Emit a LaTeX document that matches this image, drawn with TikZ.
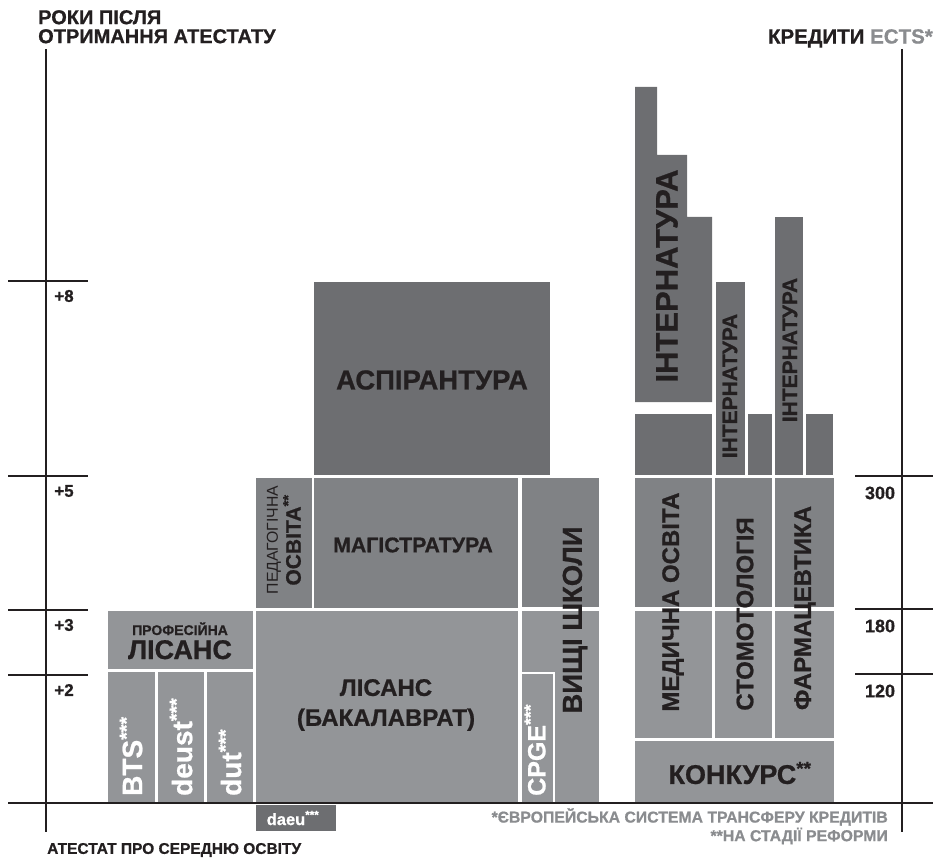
\documentclass[tikz,border=0pt]{standalone}
\usepackage{fontspec}
\setmainfont{Liberation Sans}[BoldFeatures={FakeBold=0.8}]
\usetikzlibrary{positioning}
\definecolor{darkgrey}{HTML}{6D6E71}
\definecolor{midgrey}{HTML}{808285}
\definecolor{lightgrey}{HTML}{939598}
\definecolor{ink}{HTML}{231F20}
\definecolor{notegrey}{HTML}{8A8C8F}
\def\px#1{\fontsize{#1}{#1}\selectfont}
\tikzset{
	axisline/.style={line width=2.5pt, ink},
	lbl/.style={font=\bfseries, text=ink, inner sep=0pt, align=center},
	vlbl/.style={lbl, rotate=90},
	wlbl/.style={font=\bfseries, text=white, inner sep=0pt, rotate=90, anchor=west},
}

\begin{document}
\begin{tikzpicture}[x=1pt, y=-1pt]
			%%%%% START %%%%%
			\useasboundingbox (0,0) rectangle (933,858);
			
			% light blocks
			\fill[lightgrey] (108,611) rectangle (253,669);
			\fill[lightgrey] (108,672) rectangle (155,803);
			\fill[lightgrey] (158,672) rectangle (204,803);
			\fill[lightgrey] (207,672) rectangle (253,803);
			\fill[lightgrey] (256,611) rectangle (518,803);
			\fill[lightgrey] (522,611) rectangle (599,803);
			\draw[white, line width=2.5pt] (521,673) -- (554,673) -- (554,803);
			\fill[lightgrey] (635,611) rectangle (712,738);
			\fill[lightgrey] (715,611) rectangle (772,738);
			\fill[lightgrey] (775,611) rectangle (834,738);
			\fill[lightgrey] (635,741) rectangle (834,803);
			
			% middle blocks
			\fill[midgrey] (256,478) rectangle (312,608);
			\fill[midgrey] (314,478) rectangle (518,608);
			\fill[midgrey] (522,478) rectangle (599,607);
			\fill[midgrey] (635,478) rectangle (712,607);
			\fill[midgrey] (715,478) rectangle (772,607);
			\fill[midgrey] (775,478) rectangle (834,607);
			
			% dark blocks
			\fill[darkgrey] (314,282) rectangle (550,475);
			\fill[darkgrey] (635,402) -- (635,87) -- (657,87) -- (657,155) -- (687,155) -- (687,217) -- (712,217) -- (712,402) -- cycle;
			\fill[darkgrey] (635,414) rectangle (712,475);
			\fill[darkgrey] (716,282) rectangle (745,475);
			\fill[darkgrey] (748,414) rectangle (772,475);
			\fill[darkgrey] (775,217) rectangle (803,475);
			\fill[darkgrey] (806,414) rectangle (833,475);
			\fill[darkgrey] (256,805) rectangle (336,831);
			
			% axes
			\draw[axisline] (46,49) -- (46,832);
			\draw[axisline] (902,49) -- (902,832);
			\draw[axisline] (8,803) -- (933,803);
			\foreach \y/\t/\n in {281/+8/8, 476/+5/5, 610/+3/3, 675/+2/2}{
				\draw[axisline] (8,\y) -- (88,\y);
				\node[lbl, font=\bfseries\px{17}] (year\n) at (64,\y+15) {\t};
			}
			\foreach \y/\t in {476/300, 609/180, 674/120}{
				\draw[axisline] (855,\y) -- (933,\y);
				\node[lbl, font=\bfseries\px{18}] (ects\t) at (880,\y+17) {\t};
			}
			
			% titles
			\node[lbl, align=left, anchor=north west, font=\bfseries\px{20}] (years) at (38,10) {РОКИ ПІСЛЯ\\[-1pt]ОТРИМАННЯ АТЕСТАТУ};
			\node[lbl, anchor=north east, font=\bfseries\px{20.5}] (credits) at (933,29) {КРЕДИТИ \textcolor{notegrey}{ECTS*}};
			\node[lbl, anchor=west, font=\bfseries\px{15.5}] (bac) at (47,850) {АТЕСТАТ ПРО СЕРЕДНЮ ОСВІТУ};
			\node[lbl, anchor=east, text=notegrey, font=\bfseries\px{15.8}] (note1) at (888,817) {*ЄВРОПЕЙСЬКА СИСТЕМА ТРАНСФЕРУ КРЕДИТІВ};
			\node[lbl, anchor=east, text=notegrey, font=\bfseries\px{15.8}] (note2) at (888,836) {**НА СТАДІЇ РЕФОРМИ};
			
			% block labels
			\node[lbl, font=\bfseries\px{27.5}] (aspir) at (432,380) {АСПІРАНТУРА};
			\node[lbl, font=\bfseries\px{21.3}] (magistr) at (413,545) {МАГІСТРАТУРА};
			\node[vlbl, font=\mdseries\px{15.8}] (pedag) at (274,540) {ПЕДАГОГІЧНА};
			\node[vlbl, font=\bfseries\px{21}] (pedag2) at (292,540) {ОСВІТА\textsuperscript{**}};
			\node[lbl, anchor=base, font=\bfseries\px{14}] (prof) at (180,635) {ПРОФЕСІЙНА};
			\node[lbl, anchor=base, font=\bfseries\px{27}] (prof2) at (180,659) {ЛІСАНС};
			\node[lbl, font=\bfseries\px{24}] (licence) at (386,705) {ЛІСАНС\\[6pt](БАКАЛАВРАТ)};
			\node[wlbl, font=\bfseries\px{28}] (bts) at (131,796) {BTS\textsuperscript{***}};
			\node[wlbl, font=\bfseries\px{28}] (deust) at (181,796) {deust\textsuperscript{***}};
			\node[wlbl, font=\bfseries\px{28}] (dut) at (230,796) {dut\textsuperscript{***}};
			\node[wlbl, font=\bfseries\px{25}] (cpge) at (535,796) {CPGE\textsuperscript{***}};
			\node[lbl, text=white, font=\bfseries\px{16.5}] (daeu) at (293,818) {daeu\textsuperscript{***}};
			\node[vlbl, font=\bfseries\px{27.5}] (schools) at (575,620) {ВИЩІ ШКОЛИ};
			\node[vlbl, font=\bfseries\px{24}] (medic) at (673,602) {МЕДИЧНА ОСВІТА};
			\node[vlbl, font=\bfseries\px{24}] (dental) at (745,614) {СТОМОТОЛОГІЯ};
			\node[vlbl, font=\bfseries\px{24}] (pharma) at (805,608) {ФАРМАЦЕВТИКА};
			\node[lbl, font=\bfseries\px{27}] (contest) at (740,773) {КОНКУРС\textsuperscript{**}};
			\node[vlbl, font=\bfseries\px{31}] (intern1) at (667,276) {ІНТЕРНАТУРА};
			\node[vlbl, font=\bfseries\px{21}] (intern2) at (730,386) {ІНТЕРНАТУРА};
			\node[vlbl, font=\bfseries\px{21}] (intern3) at (790,350) {ІНТЕРНАТУРА};
			%%%%% END %%%%%
\end{tikzpicture}
\end{document}
